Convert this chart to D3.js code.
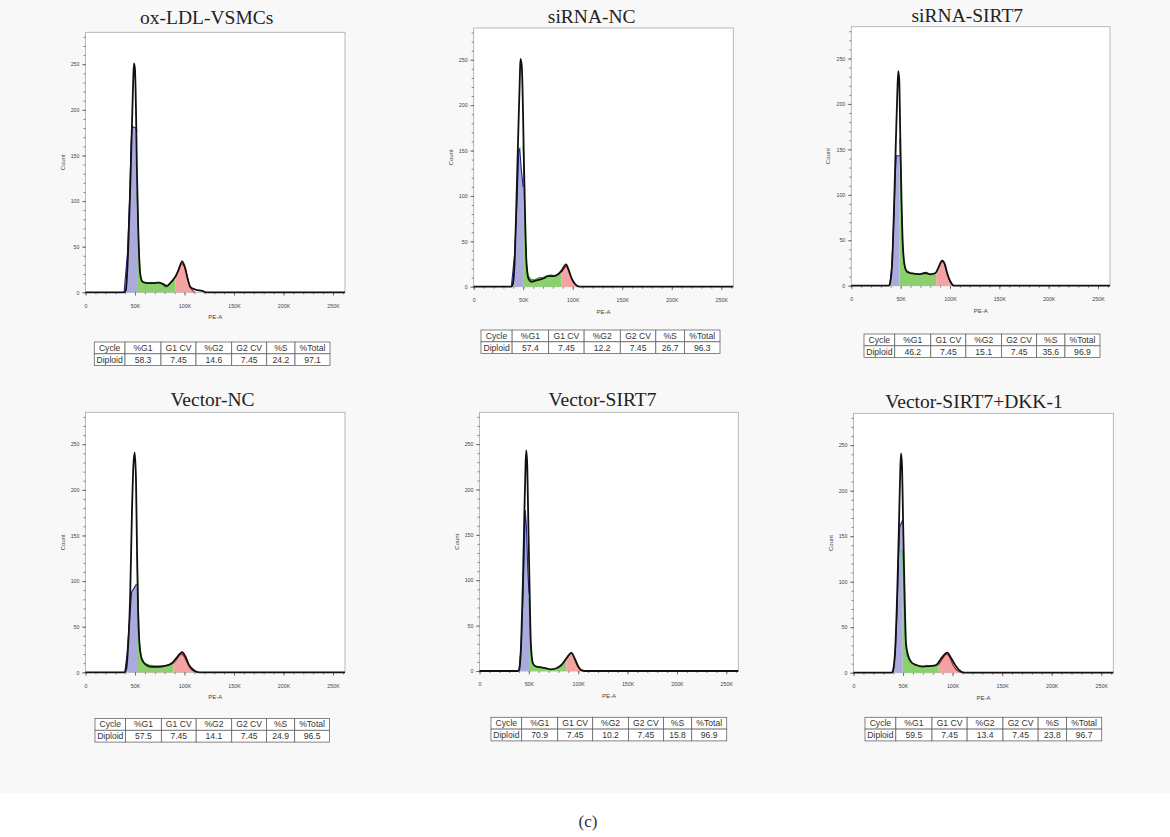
<!DOCTYPE html>
<meta charset="utf-8">
<style>
body { margin: 0; background: #fff; }
.tick text { font: 5.3px "Liberation Sans", Arial, sans-serif; fill: #444; }
.tick line { stroke: #555; stroke-width: 0.7; }
.title { font: 19.5px "Liberation Serif", serif; fill: #222; text-anchor: middle; }
.axlab { font-family: "Liberation Sans", Arial, sans-serif; font-size: 6px; fill: #444; text-anchor: middle; }
.cell text { font: 8.6px "Liberation Sans", Arial, sans-serif; fill: #333; text-anchor: middle; }
</style>
<svg id="fig"></svg>
<script src="https://d3js.org/d3.v7.min.js"></script>
<script>

var titles = ["ox-LDL-VSMCs", "siRNA-NC", "siRNA-SIRT7", "Vector-NC", "Vector-SIRT7", "Vector-SIRT7+DKK-1"];

var cycleHeaders = ["Cycle", "%G1", "G1 CV", "%G2", "G2 CV", "%S", "%Total"];
var rowLabel = "Diploid";
var diploidValues = [
  [58.3, 7.45, 14.6, 7.45, 24.2, 97.1],
  [57.4, 7.45, 12.2, 7.45, 26.7, 96.3],
  [46.2, 7.45, 15.1, 7.45, 35.6, 96.9],
  [57.5, 7.45, 14.1, 7.45, 24.9, 96.5],
  [70.9, 7.45, 10.2, 7.45, 15.8, 96.9],
  [59.5, 7.45, 13.4, 7.45, 23.8, 96.7]
];

var xTicks = [0, 50, 100, 150, 200, 250];   // PE-A, in K
var yTicks = [0, 50, 100, 150, 200, 250];   // Count

// total histogram (black line): [PE-A in K, count]
var totalHist = [
  [[0,0],[39,0],[40.7,2],[43,43],[45.2,116],[46.9,182],[48.3,236],[49,251],[50,244],[51,200],[52,130],[53.4,65],[55.2,21],[57.2,12],[60,10.5],[63,10],[68,10],[73,10.5],[78.6,9],[82,7],[85.5,10],[88,13],[90.7,17],[94,24.5],[97.6,34],[100.3,28],[103.4,14],[106,5.5],[111,3],[118,1.5],[122,0],[262.144,0]],
  [[0,0],[38,0],[39.5,3],[41.4,29],[43,88],[44.8,161],[46.5,227],[47.2,251],[48.5,244],[49.5,209],[50.5,150],[51.9,77],[53.3,26],[55.3,9],[58.3,5.5],[63.4,7],[70.2,9],[75.3,11.7],[80.4,11.7],[85.5,14],[88.9,18],[93.3,24.5],[95.7,19],[99,9],[102.4,3],[107,0],[262.144,0]],
  [[0,0],[38,0],[39.5,4],[41.5,28],[43.5,94],[45.2,160],[46.6,211],[47.6,236],[48.6,226],[49.6,167],[50.9,94],[52.3,43],[54.3,21],[56.7,15],[61.7,13.5],[68.5,12.8],[75.2,14],[80.3,12.8],[85.4,14],[88.7,21],[92.1,27.5],[94.5,24.5],[97.2,13.5],[100.5,4.4],[104,0],[262.144,0]],
  [[0,0],[39.5,0],[41,3],[43,28],[45.2,87],[46.9,174],[48.3,225],[49.7,241],[51,211],[52,138],[53.1,68],[54.8,28],[57.2,13.5],[61.4,8],[66.6,6],[73.4,6],[80.3,7],[87.2,10],[92.4,16.4],[97.6,22],[101,17],[104.5,8],[109.7,2],[115,0],[262.144,0]],
  [[0,0],[39,0],[40.3,2],[42.3,34],[44,100],[45.3,166],[46.7,229],[47.4,243],[48.4,225],[49.4,166],[50.7,93],[52,30.5],[54.1,8.5],[57.5,4.8],[62.6,4],[67.7,3],[72.7,1.8],[77.8,3],[83,6.6],[88,14],[93,20],[96.4,14],[99.8,5.5],[103,1],[107,0],[262.144,0]],
  [[0,0],[38.5,0],[40,3],[42.2,28.6],[44.3,94.6],[46,168],[47.3,226.5],[48,241],[49,226.5],[50,168],[51.4,94.6],[53,32],[55,19.4],[58,12],[63.2,8.4],[70,6.6],[76.7,7.3],[83.4,8.4],[88.5,15.8],[94.6,22],[98.6,15.8],[103.7,6.6],[108.8,1],[112,0],[262.144,0]]
];

// G1 fit region (blue)
var g1Fit = [
  [[39,0],[42.4,43],[44.5,101],[46.2,167],[47.2,182],[49,181],[51,180],[52,176],[52,0]],
  [[38,0],[41.4,37],[43.8,95],[45.5,150],[46.5,152],[48,130],[49.9,110],[49.9,0]],
  [[38.8,0],[41,20],[43,70],[44.5,120],[45.5,143],[48.9,143],[48.9,0]],
  [[39.7,0],[42,20],[44,50],[46.6,88],[49,92],[51,96],[52,96],[52,0]],
  [[40,0],[42,25],[44,80],[45.5,140],[46.3,177],[47.5,160],[49,110],[50.2,85],[50.2,0]],
  [[40,0],[42,20],[44,70],[45.5,130],[46.6,160],[48,164],[49.7,168],[49.7,0]]
];

// S phase region (green)
var sFit = [
  [[52,0],[52,110],[53,80],[54,45],[55,25],[56,15],[58,11],[62,10],[66,11],[70,10],[74,11],[78,9],[80,6],[82,6],[85,9],[88,13],[90.7,17],[90.7,0]],
  [[49.9,0],[49.9,155],[51,110],[52,60],[53.5,25],[55,12],[58,8],[62,8],[66,10],[70,10],[74,12],[78,13],[82,12],[86,14],[88.9,17],[88.9,0]],
  [[48.9,0],[48.9,162],[50.2,123],[51.6,50],[53.3,24],[55.7,17],[60,14],[65,13],[70,12],[73,14],[76,15],[79,12],[83,12],[86,15],[86,0]],
  [[52,0],[52,132],[53.1,83],[54.5,32],[56.2,17],[59.7,10],[64,8],[70,7],[76,7],[80,7],[84,8],[89,10],[89,0]],
  [[50.2,0],[50.2,80],[51,55],[52,25],[53,10],[55,6],[58,5],[62,4],[66,3],[70,2],[74,2],[78,3],[82,6],[85,9],[88,13],[88,0]],
  [[49.7,0],[49.7,135],[51,80],[52.4,36],[54,18],[58,11],[62,9],[66,8],[70,7],[74,8],[78,7],[82,8],[86,9],[86,0]]
];

// G2 fit region (red)
var g2Fit = [
  [[90.7,0],[90.7,16],[93,22],[95,28],[97.5,32],[100,28],[102,21],[104,12],[106,6],[108,2],[110,0]],
  [[88.9,0],[88.9,16],[91,20],[93.3,23],[95.5,19],[98,11],[100,6],[102,3],[104,1],[106,0]],
  [[86,0],[86,15],[88.5,20],[90.5,25],[92.1,27],[94,25],[96,18],[98,11],[100,5],[102,2],[104,0]],
  [[89,0],[89,10],[92,14],[95,19],[97.6,20],[100,17],[102,12],[104.5,7],[107,3],[110,1],[113,0]],
  [[88,0],[88,13],[90,16],[92,19],[93.5,20],[95,17],[97,11],[99,6],[101,3],[103,1],[105,0]],
  [[86,0],[86,9],[89,14],[92,19],[94.6,21],[97,17],[99,12],[101,7],[104,3],[107,1],[110,0]]
];

// layout of the six panels: plot box, title anchor, table box
var panels = [
  {l: 85.5, t: 32.3, r: 345, b: 292.3, tx: 206.7, ty: 24, tabX: 94.3, tabY: 342, tabW: 235.7},
  {l: 473.7, t: 28, r: 733.3, b: 286.7, tx: 591.7, ty: 23.3, tabX: 481, tabY: 330, tabW: 239},
  {l: 851.3, t: 26.7, r: 1110, b: 285.7, tx: 967.3, ty: 22.3, tabX: 864, tabY: 334, tabW: 236},
  {l: 85.5, t: 412.3, r: 345, b: 672.3, tx: 212.5, ty: 406, tabX: 95, tabY: 718.5, tabW: 234.5},
  {l: 479.5, t: 412.3, r: 738.3, b: 671, tx: 602.5, ty: 406, tabX: 491, tabY: 717.3, tabW: 235.7},
  {l: 853.5, t: 413.3, r: 1113.3, b: 672.7, tx: 974, ty: 408.3, tabX: 865, tabY: 717.3, tabW: 236.7}
];
var colWidths = [30.7, 36, 35, 35.7, 35, 28.3, 35];
var rowH = 11.8;

var svg = d3.select("#fig")
    .attr("width", 1170)
    .attr("height", 837);

svg.append("rect")
    .attr("width", 1170).attr("height", 793)
    .attr("fill", "#f8f8f8");

panels.forEach(function(p, i) {
  var x = d3.scaleLinear().domain([0, 262.144]).range([p.l, p.r]);
  var y = d3.scaleLinear().domain([0, 285]).range([p.b, p.t]);
  var g = svg.append("g");

  g.append("rect")
      .attr("x", p.l).attr("y", p.t)
      .attr("width", p.r - p.l).attr("height", p.b - p.t)
      .attr("fill", "#fff")
      .attr("stroke", "#a8a8a8")
      .attr("stroke-width", 0.8);

  // minor ticks
  g.append("g")
      .attr("transform", "translate(" + p.l + ",0)")
      .call(d3.axisLeft(y).tickValues(d3.range(0, 285, 10)).tickSize(2).tickFormat(""))
      .call(function(a) { a.select(".domain").remove(); });
  g.append("g")
      .attr("transform", "translate(0," + p.b + ")")
      .call(d3.axisBottom(x).tickValues(d3.range(0, 262, 10)).tickSize(2).tickFormat(""))
      .call(function(a) { a.select(".domain").remove(); });

  // major ticks + labels
  g.append("g")
      .attr("transform", "translate(" + p.l + ",0)")
      .call(d3.axisLeft(y).tickValues(yTicks).tickSize(3.5).tickPadding(2.5))
      .call(function(a) { a.select(".domain").remove(); });
  g.append("g")
      .attr("transform", "translate(0," + p.b + ")")
      .call(d3.axisBottom(x).tickValues(xTicks).tickSize(3.5).tickPadding(8)
        .tickFormat(function(d) { return d === 0 ? "0" : d + "K"; }))
      .call(function(a) { a.select(".domain").remove(); });

  var area = d3.area()
      .x(function(d) { return x(d[0]); })
      .y0(y(0))
      .y1(function(d) { return y(d[1]); });
  var line = d3.line()
      .x(function(d) { return x(d[0]); })
      .y(function(d) { return y(d[1]); });

  g.append("path").attr("d", area(g1Fit[i])).attr("fill", "#aaaadd");
  g.append("path").attr("d", area(sFit[i])).attr("fill", "#8bd06c");
  g.append("path").attr("d", area(g2Fit[i])).attr("fill", "#f4a3a3");

  g.append("path").attr("d", line(g1Fit[i].slice(0, -1)))
      .attr("fill", "none").attr("stroke", "#22228a").attr("stroke-width", 1.1);
  g.append("path").attr("d", line(sFit[i].slice(1, -1)))
      .attr("fill", "none").attr("stroke", "#2fae2f").attr("stroke-width", 1.1);
  g.append("path").attr("d", line(g2Fit[i].slice(1)))
      .attr("fill", "none").attr("stroke", "#a42020").attr("stroke-width", 1.1);

  g.append("path")
      .attr("d", line.curve(d3.curveMonotoneX)(totalHist[i]))
      .attr("fill", "none")
      .attr("stroke", "#111")
      .attr("stroke-width", 1.8)
      .attr("stroke-linejoin", "round");

  g.append("text").attr("class", "title")
      .attr("x", p.tx).attr("y", p.ty)
      .text(titles[i]);

  g.append("text").attr("class", "axlab")
      .attr("transform", "translate(" + (p.l - 21) + "," + ((p.t + p.b) / 2) + ") rotate(-90)")
      .text("Count");
  g.append("text").attr("class", "axlab")
      .attr("x", (p.l + p.r) / 2).attr("y", p.b + 27)
      .text("PE-A");

  // statistics table
  var k = p.tabW / d3.sum(colWidths);
  var rows = [cycleHeaders, [rowLabel].concat(diploidValues[i].map(String))];
  var tab = g.append("g").attr("class", "cell");
  rows.forEach(function(row, r) {
    var cx = p.tabX;
    row.forEach(function(txt, c) {
      var w = colWidths[c] * k;
      tab.append("rect")
          .attr("x", cx).attr("y", p.tabY + r * rowH)
          .attr("width", w).attr("height", rowH)
          .attr("fill", "#fff")
          .attr("stroke", "#666")
          .attr("stroke-width", 0.8);
      tab.append("text")
          .attr("x", cx + w / 2)
          .attr("y", p.tabY + r * rowH + rowH / 2 + 3)
          .text(txt);
      cx += w;
    });
  });
});

svg.append("text")
    .attr("x", 588).attr("y", 827)
    .attr("text-anchor", "middle")
    .style("font", "17px 'Liberation Serif', serif")
    .style("fill", "#333")
    .text("(c)");

</script>
